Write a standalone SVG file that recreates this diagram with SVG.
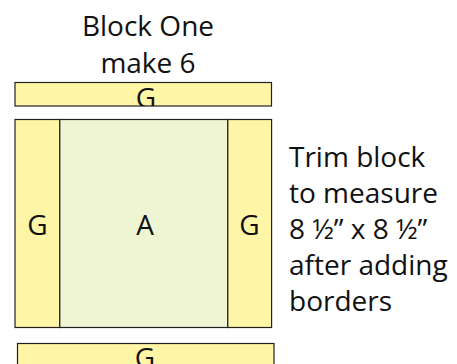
<svg xmlns="http://www.w3.org/2000/svg" width="457" height="364" viewBox="0 0 457 364">
<style>
text{font-family:"Open Sans","Liberation Sans",sans-serif;font-size:28px;fill:#111}
.c{text-anchor:middle}
.y{fill:#fff5a6;stroke:#231f20;stroke-width:1.2}
.g{fill:#eff5d3;stroke:#231f20;stroke-width:1.2}
</style>
<defs>
<clipPath id="ct"><rect x="15" y="82.5" width="256.5" height="23.5"/></clipPath>
<clipPath id="cb"><rect x="17.5" y="343.5" width="256.5" height="30"/></clipPath>
</defs>
<g id="title">
<text class="c" x="148" y="36">Block One</text>
<text class="c" x="148" y="72.5">make 6</text>
</g>
<g id="topG">
<rect class="y" x="15" y="82.5" width="256.5" height="23.5"/>
<text class="c" x="146" y="108" clip-path="url(#ct)">G</text>
</g>
<g id="leftG">
<rect class="y" x="15" y="119.5" width="44.8" height="208"/>
<text class="c" x="37.5" y="235">G</text>
</g>
<g id="A">
<rect class="g" x="59.8" y="119.5" width="168" height="208"/>
<text class="c" x="145" y="235">A</text>
</g>
<g id="rightG">
<rect class="y" x="227.8" y="119.5" width="43.8" height="208"/>
<text class="c" x="249.5" y="235">G</text>
</g>
<g id="bottomG">
<rect class="y" x="17.5" y="343.5" width="256.5" height="30"/>
<text class="c" x="145" y="368" clip-path="url(#cb)">G</text>
</g>
<g id="note">
<text x="289" y="166.5">Trim block</text>
<text x="289" y="202.5">to measure</text>
<text x="289" y="238.5">8 ½” x 8 ½”</text>
<text x="289" y="274.5">after adding</text>
<text x="289" y="310.5">borders</text>
</g>
<g id="connectors"/>
</svg>
